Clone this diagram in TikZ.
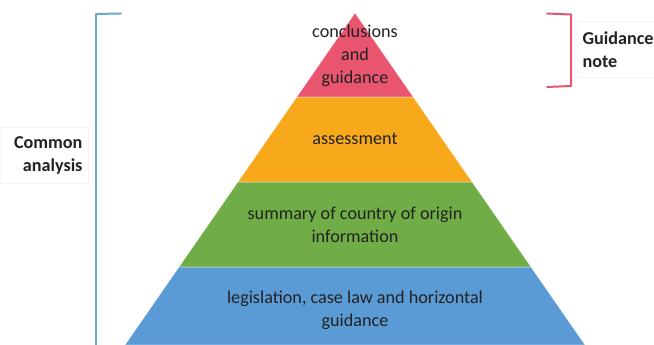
\documentclass[tikz,border=0pt]{standalone}
\usepackage{fontspec}
\setmainfont{Carlito}
\usetikzlibrary{calc}

\definecolor{tipcol}{HTML}{E9546F}
\definecolor{assesscol}{HTML}{F7A81B}
\definecolor{summarycol}{HTML}{71AD47}
\definecolor{basecol}{HTML}{5B9BD5}
\definecolor{txtcol}{HTML}{222222}

\tikzset{
  layer/.style={draw=white, draw opacity=0.45, line width=0.6pt},
  layertext/.style={align=center, text=txtcol, font=\fontsize{15.5}{19.5}\selectfont},
  sidebox/.style={draw=black!4, text=txtcol, font=\fontsize{15.5}{19.5}\selectfont\bfseries,
    minimum height=1.68cm, inner xsep=0.16cm},
  bracket/.style={line width=1.7pt, line cap=round, line join=round}
}

\begin{document}
\begin{tikzpicture}[x=0.03cm, y=-0.03cm]
            \useasboundingbox (0,0) rectangle (654,345);
            \coordinate (A) at (355,13);
            \coordinate (BL) at (125,345);
            \coordinate (BR) at (585,345);
            \coordinate (L1) at ($(A)!0.253!(BL)$);
            \coordinate (R1) at ($(A)!0.253!(BR)$);
            \coordinate (L2) at ($(A)!0.509!(BL)$);
            \coordinate (R2) at ($(A)!0.509!(BR)$);
            \coordinate (L3) at ($(A)!0.765!(BL)$);
            \coordinate (R3) at ($(A)!0.765!(BR)$);
            % pyramid layers
            \filldraw[layer, fill=basecol] (L3) -- (R3) -- (BR) -- (BL) -- cycle;
            \filldraw[layer, fill=summarycol] (L2) -- (R2) -- (R3) -- (L3) -- cycle;
            \filldraw[layer, fill=assesscol] (L1) -- (R1) -- (R2) -- (L2) -- cycle;
            \filldraw[layer, fill=tipcol] (A) -- (R1) -- (L1) -- cycle;
            \node[layertext] (conclusions) at (355,56) {conclusions\\and\\guidance};
            \node[layertext] (assessment) at (355,139) {assessment};
            \node[layertext] (summary) at (355,225) {summary of country of origin\\information};
            \node[layertext] (legislation) at (355,310.5) {legislation, case law and horizontal\\guidance};
            % side labels
            \node[sidebox, anchor=east, align=right, text width=2.3cm] (common) at (88,155.5) {Common\\analysis};
            \node[sidebox, anchor=west, align=left, text width=2.6cm] (note) at (577,49.5) {Guidance\\note};
            % brackets
            \coordinate (c1) at (121,13.5);
            \coordinate (c2) at (96,14);
            \coordinate (c3) at (96,350);
            \draw[bracket, draw=basecol!90!white] (c1) -- (c2) -- (c3);
            \coordinate (g1) at (547,13.5);
            \coordinate (g2) at (571,14.5);
            \coordinate (g3) at (571,86);
            \coordinate (g4) at (547,87);
            \draw[bracket, draw=tipcol] (g1) -- (g2) -- (g3) -- (g4);
        \end{tikzpicture}
\end{document}
